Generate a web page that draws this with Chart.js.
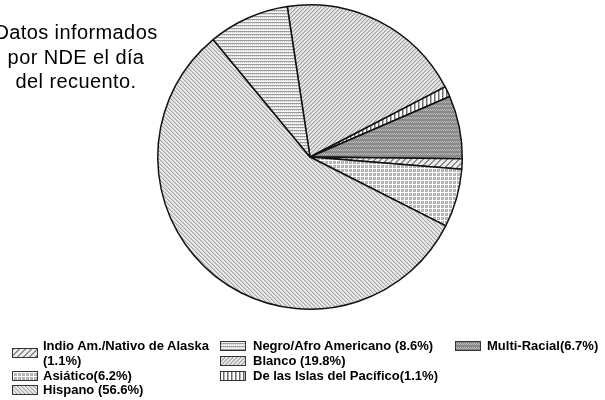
<!DOCTYPE html>
<html>
<head>
<meta charset="utf-8">
<script src="https://cdn.jsdelivr.net/npm/chart.js@4.4.1/dist/chart.umd.min.js"></script>
<style>
body { margin:0; background:#fff; }
#wrap { position:relative; width:605px; height:400px; overflow:hidden; font-family:"Liberation Sans", Arial, sans-serif; }
#myPie { position:absolute; left:0; top:0; }
#note { position:absolute; left:-9px; top:20px; width:170px; text-align:center; font-size:20px; line-height:24.5px; letter-spacing:0.4px; color:#000; }
.key { position:absolute; width:24px; height:8px; border:1px solid #333; }
.lbl { position:absolute; font-size:13px; font-weight:bold; line-height:15px; white-space:nowrap; color:#000; }
</style>
</head>
<body>
<div id="wrap">
  <canvas id="myPie" width="605" height="400"></canvas>
  <div id="note">Datos informados<br>por NDE el día<br>del recuento.</div>
</div>
<script>
// slices in the order they appear clockwise on the pie
var categories = ['Blanco', 'De las Islas del Pacífico', 'Multi-Racial', 'Indio Am./Nativo de Alaska', 'Asiático', 'Hispano', 'Negro/Afro Americano'];
var values = [19.8, 1.1, 6.7, 1.1, 6.2, 56.6, 8.6];

// legend text, in legend order
var legendNames = ['Indio Am./Nativo de Alaska', 'Negro/Afro Americano', 'Multi-Racial', 'Asiático', 'Blanco', 'De las Islas del Pacífico', 'Hispano'];
var legendTexts = ['Indio Am./Nativo de Alaska<br>(1.1%)', 'Negro/Afro Americano (8.6%)', 'Multi-Racial(6.7%)', 'Asiático(6.2%)', 'Blanco (19.8%)', 'De las Islas del Pacífico(1.1%)', 'Hispano (56.6%)'];

// small tiles for the hatch fills
function tile(w, h, bg, draw) {
  var c = document.createElement('canvas');
  c.width = w; c.height = h;
  var g = c.getContext('2d');
  g.fillStyle = bg;
  g.fillRect(0, 0, w, h);
  draw(g);
  return c;
}
function px(g, col, pts) {
  g.fillStyle = col;
  pts.forEach(function (p) { g.fillRect(p[0], p[1], 1, 1); });
}

var tiles = {
  'Blanco': tile(4, 4, '#e6e6e6', function (g) {
    px(g, '#a2a2a2', [[3,0],[2,1],[1,2],[0,3]]);
    px(g, '#cacaca', [[0,0],[3,1],[2,2],[1,3]]);
  }),
  'Hispano': tile(4, 4, '#e8e8e8', function (g) {
    px(g, '#a8a8a8', [[0,0],[1,1],[2,2],[3,3]]);
    px(g, '#d0d0d0', [[1,0],[2,1],[3,2],[0,3]]);
  }),
  'Negro/Afro Americano': tile(4, 3, '#f4f4f4', function (g) {
    px(g, '#9c9c9c', [[0,1],[1,1],[2,1],[3,1]]);
    px(g, '#cdcdcd', [[0,2],[2,2]]);
  }),
  'Multi-Racial': tile(4, 4, '#8a8a8a', function (g) { px(g, '#bdbdbd', [[0,1],[2,1],[1,2],[3,2]]); }),
  'Asiático': tile(4, 4, '#b2b2b2', function (g) {
    px(g, '#ffffff', [[0,0],[1,0],[2,0],[3,0],[0,1],[0,2],[0,3]]);
    px(g, '#c8c8c8', [[2,2]]);
  }),
  'De las Islas del Pacífico': tile(4, 4, '#ffffff', function (g) {
    px(g, '#6e6e6e', [[2,0],[2,1],[2,2],[2,3]]);
    px(g, '#b4b4b4', [[3,0],[3,1],[3,2],[3,3]]);
  }),
  'Indio Am./Nativo de Alaska': tile(6, 6, '#ececec', function (g) {
    px(g, '#8c8c8c', [[5,0],[4,1],[3,2],[2,3],[1,4],[0,5],[0,0],[5,1],[4,2],[3,3],[2,4],[1,5]]);
  })
};

var ctx = document.getElementById('myPie').getContext('2d');
var fills = categories.map(function (c) { return ctx.createPattern(tiles[c], 'repeat'); });

var myPieChart = new Chart(ctx, {
  type: 'pie',
  data: {
    labels: categories,
    datasets: [{
      data: values,
      backgroundColor: fills,
      borderColor: '#111',
      borderWidth: 1.5
    }]
  },
  options: {
    responsive: false,
    animation: false,
    rotation: -8.6,
    layout: { padding: { left: 157, right: 142, top: 4, bottom: 90 } },
    plugins: {
      legend: { display: false },
      tooltip: { enabled: false }
    },
    events: []
  }
});

// legend grid laid out like the original
var keyX = [12, 220, 455];
var textX = [43, 253, 487];
var rowTop = [338, 338, 338, 368, 353, 368, 382];
var colOf = [0, 1, 2, 0, 1, 1, 0];
var wrap = document.getElementById('wrap');
legendNames.forEach(function (n, i) {
  var k = document.createElement('div');
  k.className = 'key';
  k.style.left = keyX[colOf[i]] + 'px';
  k.style.top = (i === 0 ? rowTop[i] + 10 : rowTop[i] + 3) + 'px';
  k.style.backgroundImage = 'url(' + tiles[n].toDataURL() + ')';
  wrap.appendChild(k);
  var t = document.createElement('div');
  t.className = 'lbl';
  t.style.left = textX[colOf[i]] + 'px';
  t.style.top = rowTop[i] + 'px';
  t.innerHTML = legendTexts[i];
  wrap.appendChild(t);
});
</script>
</body>
</html>
